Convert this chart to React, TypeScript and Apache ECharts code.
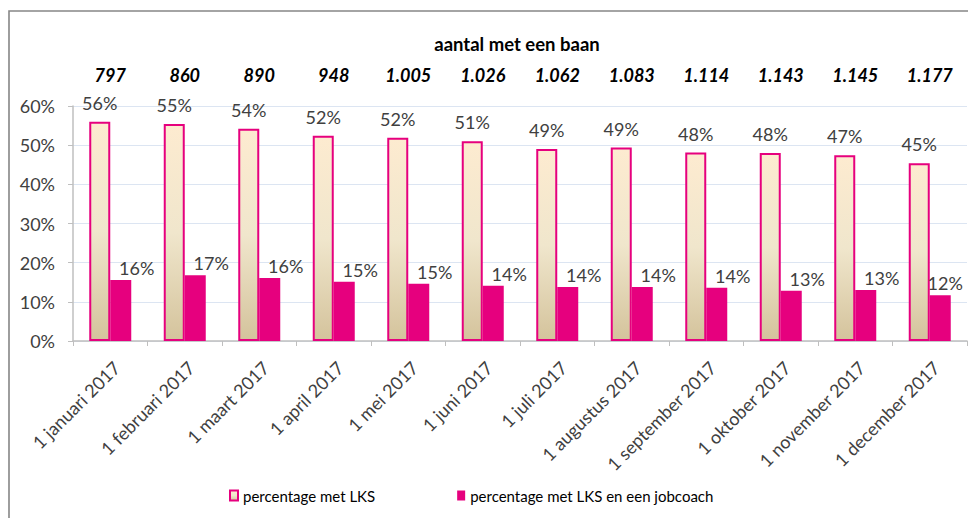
import React, { useEffect, useRef } from "react";
import * as echarts from "echarts";

const categories = [
  "1 januari 2017",
  "1 februari 2017",
  "1 maart 2017",
  "1 april 2017",
  "1 mei 2017",
  "1 juni 2017",
  "1 juli 2017",
  "1 augustus 2017",
  "1 september 2017",
  "1 oktober 2017",
  "1 november 2017",
  "1 december 2017",
];

const aantalMetBaan = ["797", "860", "890", "948", "1.005", "1.026", "1.062", "1.083", "1.114", "1.143", "1.145", "1.177"];

const percentageLKS = [56.0, 55.4, 54.2, 52.4, 51.9, 51.0, 49.0, 49.4, 48.1, 48.0, 47.4, 45.4];
const percentageJobcoach = [15.6, 16.8, 16.1, 15.1, 14.6, 14.1, 13.8, 13.8, 13.6, 12.8, 13.0, 11.7];

const yTicks = { min: 0, max: 60, interval: 10 };

const FONT = "Lato, 'Open Sans', sans-serif";
const PINK = "#E6007E";

export default function App() {
  const ref = useRef<HTMLDivElement>(null);

  useEffect(() => {
    if (!ref.current) return;
    const chart = echarts.init(ref.current, undefined, { renderer: "svg" });
    const lksFill = new echarts.graphic.LinearGradient(0, 0, 0, 1, [
      { offset: 0, color: "#FDEBD0" },
      { offset: 0.5, color: "#F0E6CC" },
      { offset: 1, color: "#D4C39C" },
    ]);
    const lastIdx = percentageJobcoach.length - 1;
    chart.setOption({
      animation: false,
      textStyle: { fontFamily: FONT },
      title: {
        text: "aantal met een baan",
        left: 512,
        textAlign: "center",
        top: 29,
        textStyle: { fontFamily: FONT, fontSize: 18.5, fontWeight: "bold", color: "#000" },
      },
      graphic: [
        {
          type: "rect",
          shape: { x: 9, y: 11, width: 975, height: 530 },
          style: { fill: "none", stroke: "#868686", lineWidth: 1.6 },
          silent: true,
          z: -1,
        },
      ],
      legend: {
        left: 224,
        top: 483,
        itemWidth: 8,
        itemHeight: 10,
        itemGap: 82,
        icon: "rect",
        textStyle: { fontFamily: FONT, fontSize: 15, color: "#000" },
        data: ["percentage met LKS", "percentage met LKS en een jobcoach"],
      },
      grid: { left: 73, right: 1, top: 106, bottom: 177, containLabel: false },
      xAxis: [
        {
          type: "category",
          data: categories,
          axisLine: { lineStyle: { color: "#BFBFBF", width: 1.5 } },
          axisTick: { show: true, length: 5, lineStyle: { color: "#BFBFBF" } },
          axisLabel: {
            rotate: 45,
            margin: 17,
            interval: 0,
            align: "right",
            verticalAlign: "top",
            fontFamily: FONT,
            fontSize: 18,
            color: "#404040",
          },
        },
        {
          type: "category",
          position: "top",
          data: aantalMetBaan,
          axisLine: { show: false },
          axisTick: { show: false },
          axisLabel: {
            interval: 0,
            margin: 22,
            fontFamily: FONT,
            fontSize: 18,
            fontWeight: "bold",
            fontStyle: "italic",
            color: "#000",
          },
        },
      ],
      yAxis: {
        type: "value",
        min: yTicks.min,
        max: yTicks.max,
        interval: yTicks.interval,
        axisLine: { show: true, lineStyle: { color: "#BFBFBF", width: 1.5 } },
        axisTick: { show: true, length: 5, lineStyle: { color: "#BFBFBF" } },
        axisLabel: {
          formatter: "{value}%",
          margin: 18,
          fontFamily: FONT,
          fontSize: 18,
          color: "#404040",
        },
        splitLine: { lineStyle: { color: "#DCE5F2", width: 1 } },
      },
      series: [
        {
          name: "percentage met LKS",
          type: "bar",
          data: percentageLKS,
          barWidth: 21,
          barGap: "0%",
          itemStyle: { color: lksFill, borderColor: PINK, borderWidth: 2 },
          label: {
            show: true,
            position: "top",
            distance: 10,
            formatter: (p: any) => Math.round(p.value) + "%",
            fontFamily: FONT,
            fontSize: 18,
            color: "#404040",
          },
        },
        {
          name: "percentage met LKS en een jobcoach",
          type: "bar",
          data: percentageJobcoach.map((v, i) =>
            i === lastIdx ? { value: v, label: { offset: [5, 0] } } : v
          ),
          barWidth: 21,
          barGap: "0%",
          itemStyle: { color: PINK },
          label: {
            show: true,
            position: "top",
            distance: 3,
            offset: [16, 0],
            formatter: (p: any) => Math.round(p.value) + "%",
            fontFamily: FONT,
            fontSize: 18,
            color: "#404040",
          },
        },
      ],
    });
    return () => chart.dispose();
  }, []);

  return (
    <div
      ref={ref}
      style={{ position: "fixed", left: 0, top: 0, width: 968, height: 518, background: "#fff" }}
    />
  );
}
